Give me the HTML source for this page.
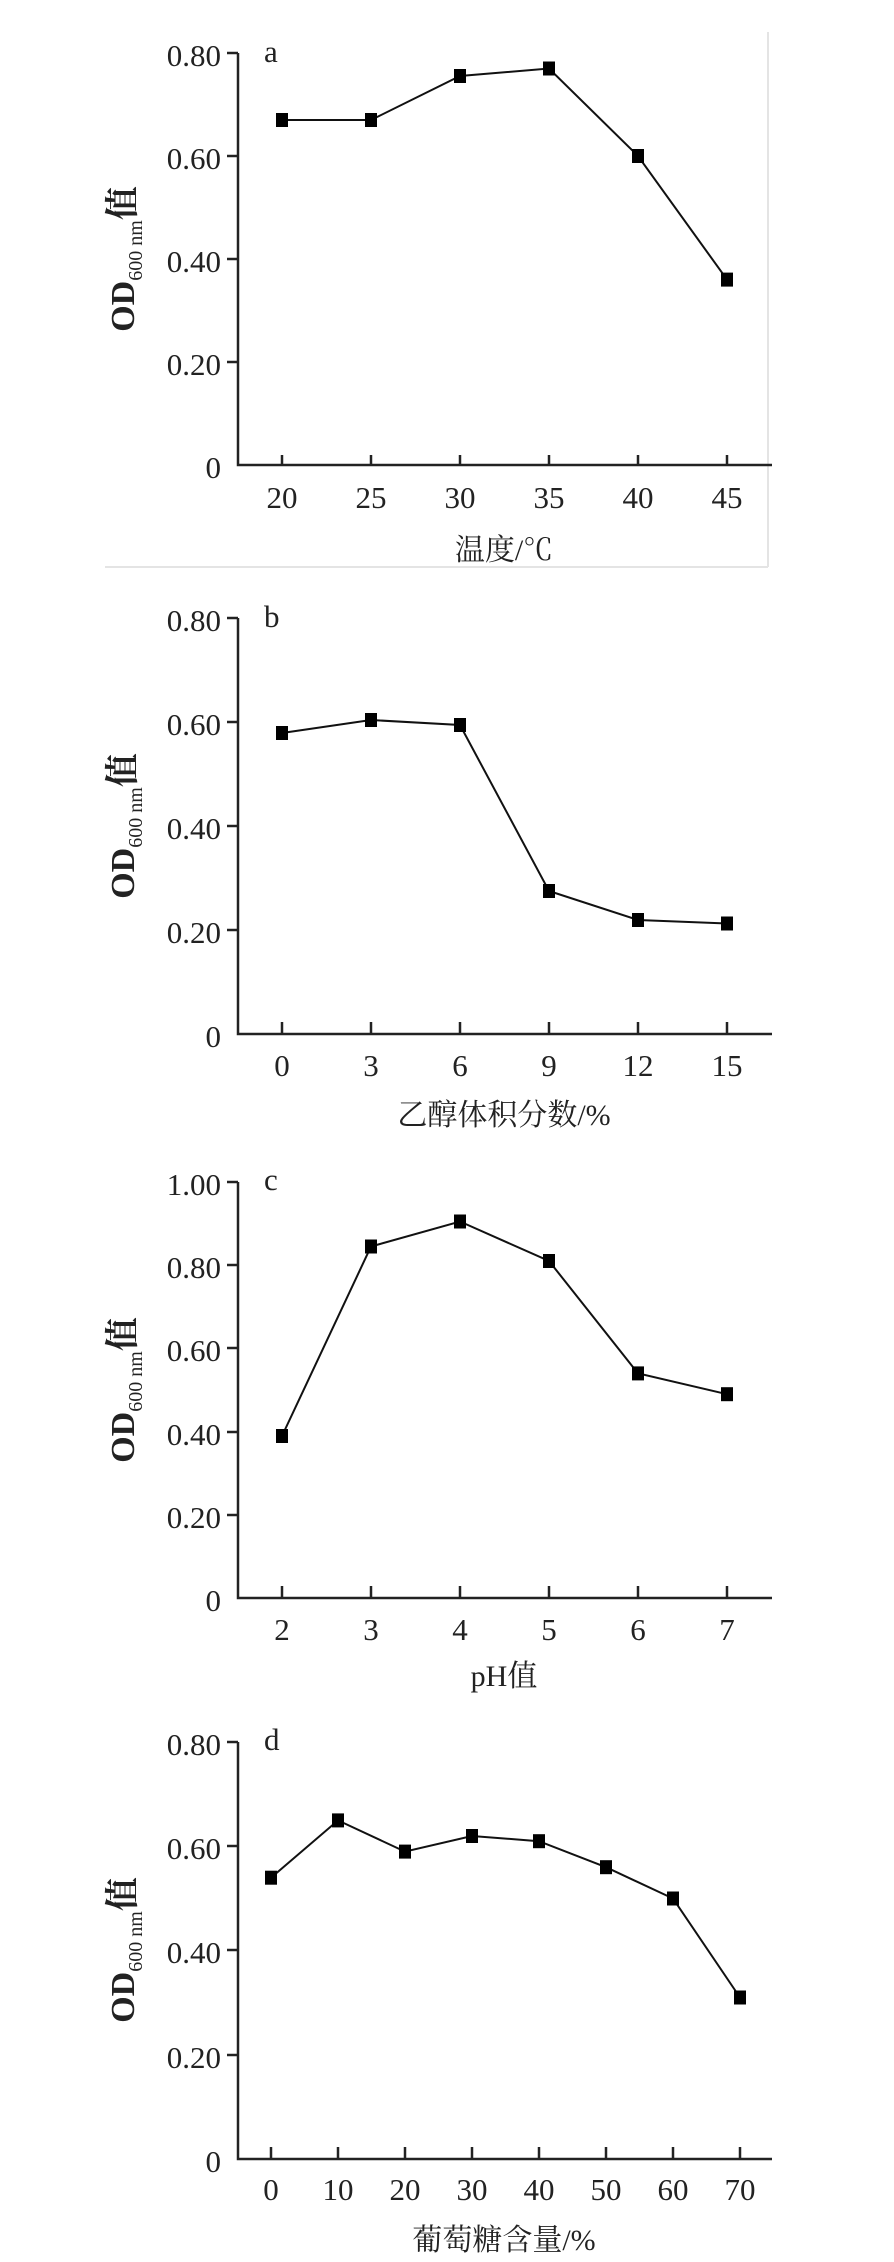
<!DOCTYPE html>
<html><head><meta charset="utf-8">
<style>
html,body{margin:0;padding:0;background:#fff;}
svg{display:block;}
text{font-family:"Liberation Serif","Noto Serif CJK SC","Noto Sans CJK SC",serif;fill:#222;}
.t{font-size:31px;}
.ttl{font-size:30px;}
.yl{font-size:34px;font-weight:bold;}
</style></head>
<body>
<svg width="894" height="2262" viewBox="0 0 894 2262" xmlns="http://www.w3.org/2000/svg">
<rect width="894" height="2262" fill="#fff"/>
<!-- faint panel border for chart a -->
<line x1="768" y1="32" x2="768" y2="567" stroke="#e4e4e4" stroke-width="2"/>
<line x1="105" y1="567" x2="768" y2="567" stroke="#e4e4e4" stroke-width="2"/>

<g stroke="#222" stroke-width="2.5" fill="none">
<!-- chart a axes -->
<path d="M238 53 V465 H772"/>
<path d="M227 53H238M227 156H238M227 259H238M227 362H238"/>
<path d="M282 455V465M371 455V465M460 455V465M549 455V465M638 455V465M727 455V465"/>
<!-- chart b -->
<path d="M238 618 V1034 H772"/>
<path d="M227 618H238M227 722H238M227 826H238M227 930H238"/>
<path d="M282 1022V1034M371 1022V1034M460 1022V1034M549 1022V1034M638 1022V1034M727 1022V1034"/>
<!-- chart c -->
<path d="M238 1182 V1598 H772"/>
<path d="M227 1182H238M227 1265H238M227 1348H238M227 1432H238M227 1515H238"/>
<path d="M282 1586V1598M371 1586V1598M460 1586V1598M549 1586V1598M638 1586V1598M727 1586V1598"/>
<!-- chart d -->
<path d="M238 1742 V2159 H772"/>
<path d="M227 1742H238M227 1846H238M227 1950H238M227 2055H238"/>
<path d="M271 2147V2159M338 2147V2159M405 2147V2159M472 2147V2159M539 2147V2159M606 2147V2159M673 2147V2159M740 2147V2159"/>
</g>

<g stroke="#111" stroke-width="2" fill="none">
<polyline points="282,120 371,120 460,76 549,68.5 638,156 727,279.6"/>
<polyline points="282,733 371,720 460,725 549,891 638,920 727,923.5"/>
<polyline points="282,1436 371,1246.5 460,1221.5 549,1261 638,1373.4 727,1394.2"/>
<polyline points="271,1877.7 338,1820.4 405,1851.6 472,1836 539,1841.2 606,1867.2 673,1898.5 740,1997.5"/>
</g>

<g fill="#000">
<rect x="276" y="113" width="12" height="14"/><rect x="365" y="113" width="12" height="14"/><rect x="454" y="69" width="12" height="14"/><rect x="543" y="61.5" width="12" height="14"/><rect x="632" y="149" width="12" height="14"/><rect x="721" y="272.6" width="12" height="14"/>
<rect x="276" y="726" width="12" height="14"/><rect x="365" y="713" width="12" height="14"/><rect x="454" y="718" width="12" height="14"/><rect x="543" y="884" width="12" height="14"/><rect x="632" y="913" width="12" height="14"/><rect x="721" y="916.5" width="12" height="14"/>
<rect x="276" y="1429" width="12" height="14"/><rect x="365" y="1239.5" width="12" height="14"/><rect x="454" y="1214.5" width="12" height="14"/><rect x="543" y="1254" width="12" height="14"/><rect x="632" y="1366.4" width="12" height="14"/><rect x="721" y="1387.2" width="12" height="14"/>
<rect x="265" y="1870.7" width="12" height="14"/><rect x="332" y="1813.4" width="12" height="14"/><rect x="399" y="1844.6" width="12" height="14"/><rect x="466" y="1829" width="12" height="14"/><rect x="533" y="1834.2" width="12" height="14"/><rect x="600" y="1860.2" width="12" height="14"/><rect x="667" y="1891.5" width="12" height="14"/><rect x="734" y="1990.5" width="12" height="14"/>
</g>

<!-- y tick labels -->
<g class="t" text-anchor="end">
<text x="221" y="66">0.80</text><text x="221" y="169">0.60</text><text x="221" y="272">0.40</text><text x="221" y="375">0.20</text><text x="221" y="478">0</text>
<text x="221" y="631">0.80</text><text x="221" y="735">0.60</text><text x="221" y="839">0.40</text><text x="221" y="943">0.20</text><text x="221" y="1047">0</text>
<text x="221" y="1195">1.00</text><text x="221" y="1278">0.80</text><text x="221" y="1361">0.60</text><text x="221" y="1445">0.40</text><text x="221" y="1528">0.20</text><text x="221" y="1611">0</text>
<text x="221" y="1755">0.80</text><text x="221" y="1859">0.60</text><text x="221" y="1963">0.40</text><text x="221" y="2068">0.20</text><text x="221" y="2172">0</text>
</g>

<!-- x tick labels -->
<g class="t" text-anchor="middle">
<text x="282" y="508">20</text><text x="371" y="508">25</text><text x="460" y="508">30</text><text x="549" y="508">35</text><text x="638" y="508">40</text><text x="727" y="508">45</text>
<text x="282" y="1076">0</text><text x="371" y="1076">3</text><text x="460" y="1076">6</text><text x="549" y="1076">9</text><text x="638" y="1076">12</text><text x="727" y="1076">15</text>
<text x="282" y="1640">2</text><text x="371" y="1640">3</text><text x="460" y="1640">4</text><text x="549" y="1640">5</text><text x="638" y="1640">6</text><text x="727" y="1640">7</text>
<text x="271" y="2200">0</text><text x="338" y="2200">10</text><text x="405" y="2200">20</text><text x="472" y="2200">30</text><text x="539" y="2200">40</text><text x="606" y="2200">50</text><text x="673" y="2200">60</text><text x="740" y="2200">70</text>
</g>

<!-- panel letters -->
<g class="t">
<text x="264" y="62">a</text>
<text x="264" y="627">b</text>
<text x="264" y="1190">c</text>
<text x="264" y="1750">d</text>
</g>

<!-- x titles -->
<g class="ttl" text-anchor="middle">
<text x="504" y="560">温度/℃</text>
<text x="504" y="1125">乙醇体积分数/%</text>
<text x="504" y="1686">pH值</text>
<text x="504" y="2250">葡萄糖含量/%</text>
</g>

<!-- y titles -->
<text class="yl" transform="translate(134,259) rotate(-90)" text-anchor="middle">OD<tspan font-size="20" font-weight="normal" dy="8">600 nm</tspan><tspan dy="-8">值</tspan></text>
<text class="yl" transform="translate(134,826) rotate(-90)" text-anchor="middle">OD<tspan font-size="20" font-weight="normal" dy="8">600 nm</tspan><tspan dy="-8">值</tspan></text>
<text class="yl" transform="translate(134,1390) rotate(-90)" text-anchor="middle">OD<tspan font-size="20" font-weight="normal" dy="8">600 nm</tspan><tspan dy="-8">值</tspan></text>
<text class="yl" transform="translate(134,1950) rotate(-90)" text-anchor="middle">OD<tspan font-size="20" font-weight="normal" dy="8">600 nm</tspan><tspan dy="-8">值</tspan></text>
</svg>
</body></html>
